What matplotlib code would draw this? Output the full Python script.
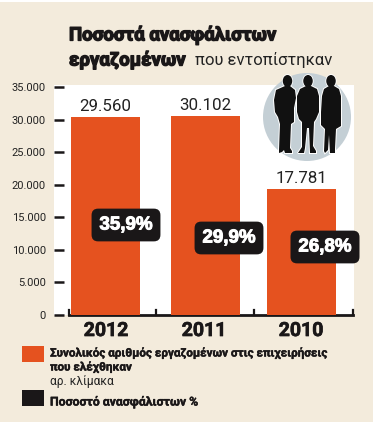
import matplotlib
matplotlib.use("Agg")
import matplotlib.pyplot as plt
import matplotlib.patheffects as pe
from matplotlib.patches import Circle, Ellipse, Polygon, Rectangle

years = ["2012", "2011", "2010"]
bar_heights = [30400, 30550, 19350]     # as drawn, the bars don't follow the printed numbers exactly
bar_labels = ["29.560", "30.102", "17.781"]
percents = ["35,9%", "29,9%", "26,8%"]
y_ticks = [0, 5000, 10000, 15000, 20000, 25000, 30000, 35000]
y_tick_labels = ["0", "5.000", "10.000", "15.000", "20.000", "25.000", "30.000", "35.000"]

# layout, in pixels of the 376x428 picture
W, H = 376, 428
bar_left = [71, 171, 267]
bar_w = 69
pct_x = [126, 229, 325]
pct_y = [225, 238, 247]
year_x = [106, 204, 301]
x0, x1, y_top, y_bot = 54, 354, 85, 315

ORANGE = "#E5521F"
BEIGE = "#F3EBDC"
BLACK = "#1A1718"
NARROW = ["Liberation Sans Narrow", "Roboto", "DejaVu Sans"]


def heavy(w):
    return [pe.withStroke(linewidth=w, foreground=BLACK)]


fig = plt.figure(figsize=(W / 100, H / 100), dpi=100, facecolor="white")
bg = fig.add_axes([0, 0, 1, 1])
bg.set_xlim(0, W)
bg.set_ylim(H, 0)
bg.axis("off")
bg.add_patch(Rectangle((0, 2), 373, 420, color=BEIGE, lw=0))

ax = fig.add_axes([x0 / W, 1 - y_bot / H, (x1 - x0) / W, (y_bot - y_top) / H])
ax.set_xlim(x0, x1)
ymax = (y_bot - y_top) / 228 * 35000
ax.set_ylim(0, ymax)
ax.bar(bar_left, bar_heights, width=bar_w, align="edge", color=ORANGE, zorder=2)
for s in ["top", "right", "left"]:
    ax.spines[s].set_visible(False)
ax.spines["bottom"].set_bounds(69, 353)
ax.spines["bottom"].set_linewidth(2)
ax.spines["bottom"].set_color(BLACK)
ax.spines["bottom"].set_zorder(1)
ax.set_yticks(y_ticks, y_tick_labels, family=NARROW, fontsize=8, color="#222222")
ax.tick_params(axis="y", direction="in", length=7.5, width=1.8, color=BLACK, pad=6)
ax.set_xticks([x + bar_w / 2 for x in bar_left], [""] * 3)
ax.tick_params(axis="x", length=0)
for tx in [69, 156, 254, 353]:
    ax.plot([tx, tx], [0, 800], color=BLACK, lw=1.6, zorder=1, clip_on=False)

for left, h, lab in zip(bar_left, bar_heights, bar_labels):
    ax.text(left + bar_w / 2, h + 500, lab, ha="center", va="bottom", family=NARROW,
            fontsize=12.2, color="#222222", zorder=3)

# silhouettes
icon = fig.add_axes([0, 0, 1, 1], facecolor="none")
icon.set_xlim(0, W)
icon.set_ylim(H, 0)
icon.axis("off")
icon.add_patch(Circle((307, 117), 44, color="#C4CFD5", lw=0))
people = [
    [(285, 86), (290, 86), (295, 90), (296, 98), (294, 108), (294, 122), (291, 124), (290, 148),
     (292, 151), (292, 153), (285, 153), (284, 150), (282, 152), (279, 153), (279, 150), (280, 124),
     (278, 117), (275, 112), (274, 100), (276, 90)],
    [(306, 86), (311, 86), (317, 89), (319, 96), (319, 112), (316, 119), (314, 122), (313, 146),
     (316, 151), (316, 153), (310, 153), (309, 128), (307, 128), (305, 148), (304, 153), (298, 153),
     (302, 147), (302, 122), (299, 119), (297, 112), (297, 96), (300, 89)],
    [(329, 86), (334, 86), (339, 89), (341, 96), (341, 118), (341, 126), (336, 129), (335, 149),
     (335, 153), (330, 153), (329, 135), (328, 150), (325, 153), (324, 151), (325, 129), (321, 125),
     (321, 112), (322, 96), (324, 89)],
]
for body, cx in zip(people, [287.5, 308, 331]):
    icon.add_patch(Polygon(body, closed=True, fc="#111111", ec="white", lw=1.4, zorder=2))
    icon.add_patch(Ellipse((cx, 81), 9.5, 12, fc="#111111", ec="white", lw=1.2, zorder=2))
    icon.add_patch(Polygon(body, closed=True, fc="#111111", ec="none", zorder=3))
    icon.add_patch(Ellipse((cx, 81), 9.5, 12, fc="#111111", ec="none", zorder=3))

# percent boxes on top of everything
for px, py, p in zip(pct_x, pct_y, percents):
    icon.text(px, py, p, ha="center", va="center", color="white", fontsize=13.5, weight="bold",
              family=["Liberation Sans", "DejaVu Sans"], zorder=5,
              path_effects=[pe.withStroke(linewidth=0.7, foreground="white")],
              bbox=dict(boxstyle="round,pad=0.42,rounding_size=0.35", fc=BLACK, ec="none"))

for yx, yr in zip(year_x, years):
    icon.text(yx, 331, yr, ha="center", va="center", fontsize=14, weight="bold",
              family=NARROW, color=BLACK, path_effects=heavy(0.5))

# title
icon.text(69, 35, "Ποσοστά ανασφάλιστων", fontsize=13.4, weight="bold", family=NARROW,
          color=BLACK, va="center", ha="left", path_effects=heavy(1.0))
icon.text(69, 60, "εργαζομένων", fontsize=13.4, weight="bold", family=NARROW,
          color=BLACK, va="center", ha="left", path_effects=heavy(1.0))
icon.text(195, 60, "που εντοπίστηκαν", fontsize=12, family=NARROW, color="#222222",
          va="center", ha="left")

# legend
icon.add_patch(Rectangle((22, 346), 22, 16, color=ORANGE, lw=0))
icon.add_patch(Rectangle((22, 390), 22, 16, color=BLACK, lw=0))
icon.text(50, 353, "Συνολικός αριθμός εργαζομένων στις επιχειρήσεις", fontsize=8.4, weight="bold",
          family=NARROW, color=BLACK, va="center", path_effects=heavy(0.3))
icon.text(50, 367, "που ελέχθηκαν", fontsize=8.4, weight="bold", family=NARROW, color=BLACK, va="center",
          path_effects=heavy(0.3))
icon.text(50, 382, "αρ. κλίμακα", fontsize=8.6, family=NARROW, color="#222222", va="center")
icon.text(50, 402, "Ποσοστό ανασφάλιστων %", fontsize=8.8, weight="bold", family=NARROW,
          color=BLACK, va="center", path_effects=heavy(0.3))

fig.savefig("out.png", dpi=100)
